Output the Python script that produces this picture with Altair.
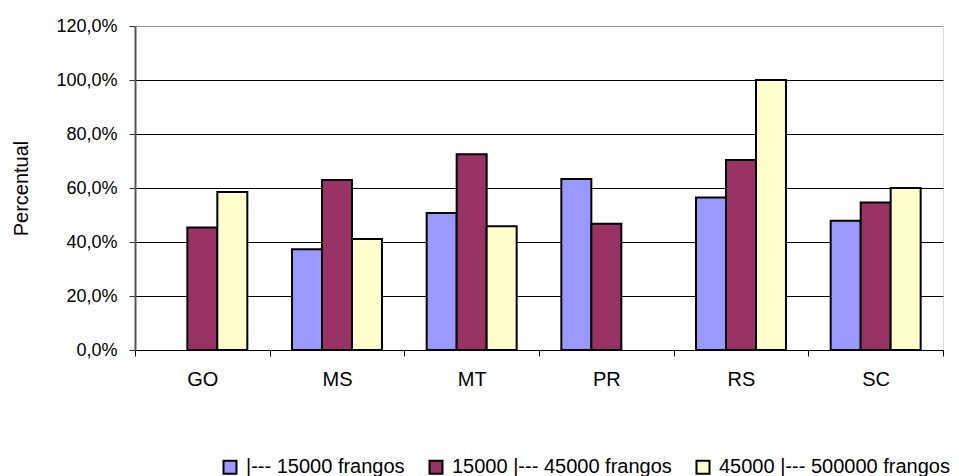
import altair as alt
import pandas as pd

estados = ["GO", "MS", "MT", "PR", "RS", "SC"]
series = ["|--- 15000 frangos", "15000 |--- 45000 frangos", "45000 |--- 500000 frangos"]
cores = ["#9999FF", "#993366", "#FFFFCC"]

s1 = [None, 0.373, 0.507, 0.633, 0.565, 0.479]
s2 = [0.454, 0.630, 0.725, 0.468, 0.704, 0.546]
s3 = [0.585, 0.411, 0.458, None, 1.000, 0.600]

rows = []
for serie, vals in zip(series, [s1, s2, s3]):
    for est, v in zip(estados, vals):
        if v is not None:
            rows.append({"estado": est, "serie": serie, "valor": v})
df = pd.DataFrame(rows)

FONT = "Liberation Sans"

chart = alt.Chart(df).mark_bar(stroke="black", strokeWidth=2).encode(
    x=alt.X("estado:N", sort=estados, title=None,
            scale=alt.Scale(paddingInner=0, paddingOuter=0),
            axis=alt.Axis(labelAngle=0, tickBand="extent", tickSize=6,
                          domainColor="black", tickColor="black",
                          labelFontSize=20, labelPadding=13, labelColor="black",
                          labelFont=FONT, grid=False)),
    xOffset=alt.XOffset("serie:N", sort=series,
                        scale=alt.Scale(domain=series, paddingInner=0, paddingOuter=0.745)),
    y=alt.Y("valor:Q", title="Percentual",
            scale=alt.Scale(domain=[0, 1.2], nice=False),
            axis=alt.Axis(values=[0, 0.2, 0.4, 0.6, 0.8, 1.0, 1.2],
                          labelExpr="replace(format(datum.value, '.1%'), '.', ',')",
                          grid=True,
                          gridColor={"condition": {"test": "datum.value > 1.19", "value": "#999999"},
                                     "value": "black"},
                          gridWidth=1, gridOpacity=1,
                          domainColor="#555555", domainWidth=2,
                          tickColor="#333333", tickSize=6,
                          labelFontSize=18, labelColor="black", labelFont=FONT, labelPadding=12,
                          titleFontSize=20, titleFont=FONT, titleFontWeight="normal",
                          titleColor="black", titlePadding=24)),
    color=alt.Color("serie:N", sort=series,
                    scale=alt.Scale(domain=series, range=cores),
                    legend=alt.Legend(title=None, orient="none", direction="horizontal",
                                      legendX=85, legendY=431, padding=0,
                                      symbolType="square", symbolSize=169,
                                      symbolStrokeColor="black", symbolStrokeWidth=2,
                                      symbolOpacity=1, labelLimit=0,
                                      labelFontSize=20, labelFont=FONT, labelColor="black",
                                      columnPadding=20, labelOffset=6)),
).properties(
    width=808, height=324,
    autosize=alt.AutoSizeParams(type="none"),
    padding={"left": 135, "top": 26, "right": 16, "bottom": 126},
).configure_view(stroke="#999999", strokeWidth=2).configure(background="white")

chart.save("out.html", embed_options={"renderer": "svg", "actions": False})
